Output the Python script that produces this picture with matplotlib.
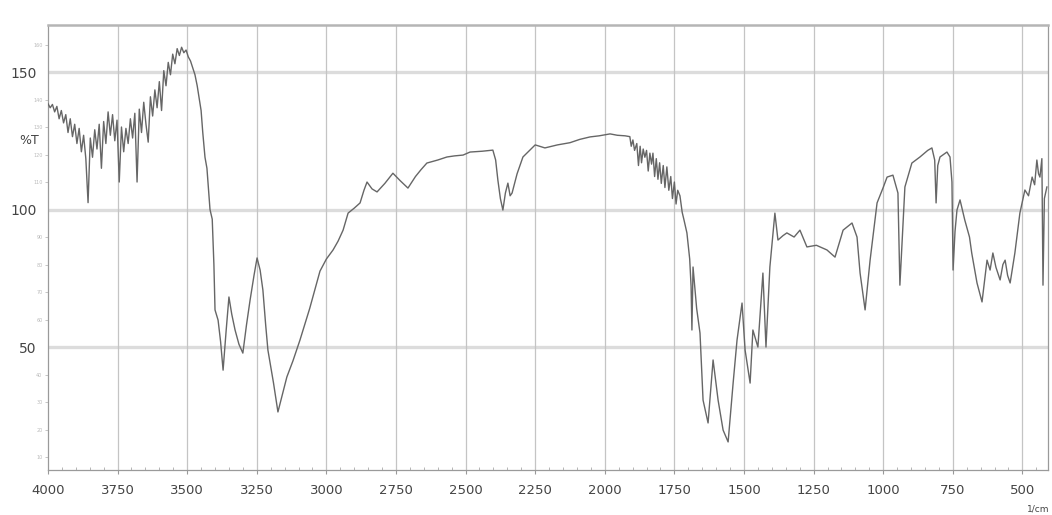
import numpy as np
import matplotlib
matplotlib.use("Agg")
import matplotlib.pyplot as plt

# FTIR spectrum (wavenumber in 1/cm, %T)
wavenumber = [
    4000, 3992, 3984, 3976, 3968, 3960, 3952, 3944, 3936, 3928, 3920, 3912,
    3904, 3896, 3888, 3880, 3872, 3864, 3856, 3848, 3840, 3832, 3824, 3816,
    3808, 3800, 3792, 3784, 3776, 3768, 3760, 3752, 3744, 3736, 3728, 3720,
    3712, 3704, 3696, 3688, 3680, 3672, 3664, 3656, 3648, 3640, 3632, 3624,
    3616, 3608, 3600, 3592, 3584, 3576, 3568, 3560, 3552, 3544, 3536, 3528,
    3520, 3512, 3504, 3496, 3488, 3480, 3472, 3464, 3456, 3450, 3444, 3436,
    3429, 3424, 3418, 3410, 3404, 3400, 3389, 3380, 3371, 3360, 3350, 3340,
    3328, 3314, 3300, 3287, 3274, 3260, 3249, 3238, 3228, 3218, 3210, 3190,
    3174, 3160, 3142, 3120, 3095, 3060, 3023, 3000, 2976, 2958, 2940, 2922,
    2900, 2879, 2865, 2854, 2836, 2818, 2790, 2761, 2735, 2707, 2680, 2660,
    2639, 2600, 2567, 2540, 2509, 2484, 2440, 2402, 2392, 2384, 2375, 2366,
    2357, 2348, 2340, 2333, 2315, 2294, 2250, 2215, 2170, 2125, 2090, 2053,
    2020, 1981, 1955, 1927,
    1910, 1905, 1899, 1893, 1885, 1879, 1873, 1868, 1862, 1856, 1850, 1844,
    1838, 1832, 1827, 1821, 1815, 1809, 1803, 1797, 1790, 1784, 1777, 1770,
    1763, 1757, 1750, 1744, 1738, 1730, 1722, 1715,
    1705, 1695, 1690, 1687,
    1683, 1670, 1658, 1647, 1629, 1611, 1593, 1575, 1557, 1539, 1525, 1507,
    1496, 1478, 1468, 1450, 1432, 1421, 1407, 1389, 1378, 1360, 1346, 1320,
    1299, 1274, 1240, 1202, 1173, 1144, 1112, 1094, 1083, 1065, 1047, 1022,
    1000, 986, 965, 947, 940, 922, 897, 868, 840, 825, 815, 810, 804, 796,
    771, 760, 753, 749, 742, 735, 724, 707, 690, 682, 663, 645, 627, 616,
    606, 595, 580, 570, 562, 553, 544, 535, 527, 509, 491, 478, 465, 456,
    448, 442, 437, 430, 426, 421, 412,
]
transmittance = [
    138.5, 137.0, 138.2, 135.5, 137.5, 133.0, 136.0, 131.5, 134.5, 128.0, 133.0, 126.5,
    131.0, 124.0, 129.5, 121.0, 127.0, 118.5, 102.5, 126.0, 119.0, 129.0, 122.0, 131.0,
    115.0, 132.0, 124.0, 135.5, 127.0, 134.5, 125.0, 132.5, 110.0, 130.0, 121.0, 129.5,
    124.0, 133.0, 126.0, 135.0, 110.0, 136.5, 128.0, 139.0, 131.0, 124.5, 141.0, 134.0,
    143.5, 137.0, 146.5, 136.0, 150.5, 145.0, 153.5, 149.0, 156.5, 153.0, 158.5, 156.0,
    159.0, 157.0, 158.0, 155.5, 154.0, 151.5, 149.0, 145.0, 140.0, 136.0, 128.0, 119.0,
    115.0, 108.0, 100.0, 96.5, 80.0, 63.5, 59.8, 52.0, 41.6, 56.0, 68.2, 62.0,
    56.2, 51.0, 47.8, 58.0, 67.1, 76.0, 82.4, 78.0, 70.7, 58.0, 48.9, 37.0,
    26.4, 32.0, 39.1, 45.0, 52.5, 64.0, 77.6, 82.0, 85.3, 88.5, 92.5, 98.7,
    100.5, 102.4, 107.0, 110.0, 107.5, 106.4, 109.5, 113.2, 110.5, 107.8, 112.0, 114.5,
    116.9, 118.0, 119.1, 119.5, 119.8, 120.9, 121.2, 121.6, 118.0, 110.7, 104.0, 99.8,
    106.0, 109.6, 105.0, 106.0, 113.0, 119.1, 123.5, 122.4, 123.5, 124.3, 125.5, 126.4,
    126.8, 127.5, 127.0, 126.8,
    126.5, 123.0, 125.3, 121.5, 124.0, 116.0, 123.0, 117.0, 122.0, 119.0, 121.5, 114.0,
    120.5, 116.5, 120.5, 112.0, 118.5, 111.0, 117.0, 109.5, 116.0, 108.0, 115.5, 107.0,
    112.0, 104.0, 110.0, 102.0, 107.0, 105.0, 99.0, 96.0,
    91.5, 82.0, 72.0, 56.2,
    79.1, 64.0, 55.1, 30.7, 22.4, 45.3, 30.7, 19.8, 15.5, 36.9, 52.5, 66.0,
    48.9, 36.9, 56.2, 50.0, 76.9, 50.0, 79.1, 98.7, 88.9, 90.5, 91.5, 90.0,
    92.5, 86.4, 87.0, 85.3, 82.7, 92.5, 95.1, 90.0, 76.9, 63.5, 81.6, 102.4,
    108.0, 111.8, 112.5, 106.0, 72.5, 108.2, 116.9, 119.1, 121.5, 122.4, 118.0, 102.4,
    116.0, 119.1, 120.9, 119.1, 110.0, 78.0, 92.0, 99.8, 103.5, 96.2, 90.0, 84.2,
    73.3, 66.4, 81.6, 78.0, 84.2, 79.0, 74.4, 80.0, 81.6, 76.0, 73.3, 79.0,
    84.2, 98.7, 107.1, 105.0, 111.8, 109.0, 118.0, 113.0, 111.8, 118.5, 72.5, 104.0,
    108.2,
]

x_ticks = [4000, 3750, 3500, 3250, 3000, 2750, 2500, 2250, 2000, 1750, 1500, 1250, 1000, 750, 500]
y_major = [50, 100, 150]
y_minor = [10, 20, 30, 40, 60, 70, 80, 90, 110, 120, 130, 140, 160]

fig = plt.figure(figsize=(10.52, 5.15), dpi=100)
ax = fig.add_axes([0.0456, 0.0874, 0.9506, 0.8641])

ax.set_xlim(4000, 408)
ax.set_ylim(5.3, 167.1)

# grid: heavy pale horizontal lines at major %T, thin verticals every 250
for yv in y_major:
    ax.axhline(yv, color="#dcdcdc", lw=2.4, zorder=1)
for xv in x_ticks[1:]:
    ax.axvline(xv, color="#c4c4c4", lw=0.9, zorder=1)

ax.plot(wavenumber, transmittance, color="#666666", lw=1.0, zorder=3)

ax.set_xticks(x_ticks)
ax.set_xticklabels([str(v) for v in x_ticks], fontsize=9.5, color="#444444")
ax.set_xticks(np.arange(4000, 400, -50), minor=True)
ax.set_yticks(y_major)
ax.set_yticklabels([str(v) for v in y_major], fontsize=10, color="#444444")
ax.set_yticks(y_minor, minor=True)
ax.set_yticklabels([str(v) for v in y_minor], minor=True, fontsize=3.5, color="#bbbbbb")

ax.tick_params(axis="x", which="major", length=3, color="#999999", pad=7)
ax.tick_params(axis="x", which="minor", length=2, color="#aaaaaa", direction="in")
ax.tick_params(axis="y", which="major", length=0, pad=8)
ax.tick_params(axis="y", which="minor", length=2, color="#bbbbbb", pad=2)

for side in ["left", "right", "bottom"]:
    ax.spines[side].set_color("#9a9a9a")
    ax.spines[side].set_linewidth(0.9)
ax.spines["top"].set_color("#b5b5b5")
ax.spines["top"].set_linewidth(1.8)

fig.text(0.018, 0.728, "%T", fontsize=9, color="#444444", ha="left", va="center")
fig.text(0.998, 0.002, "1/cm", fontsize=6.5, color="#444444", ha="right", va="bottom")

fig.savefig("out.png", dpi=100, facecolor="white")
